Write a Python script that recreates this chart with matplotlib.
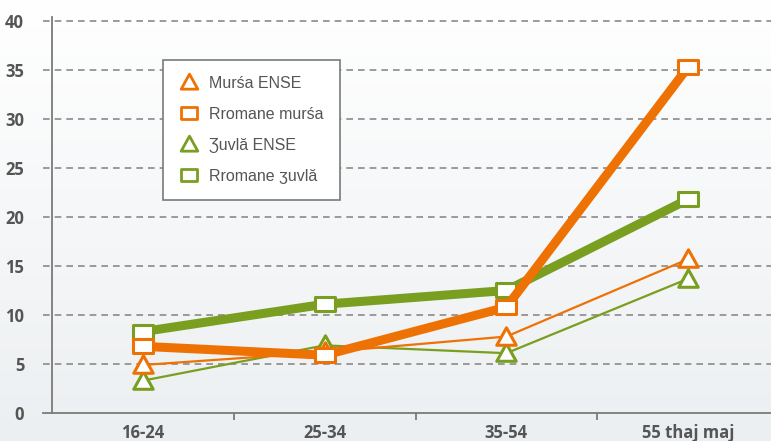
import numpy as np
import matplotlib
matplotlib.use("Agg")
import matplotlib.pyplot as plt
from matplotlib.path import Path
import matplotlib.transforms as mtransforms

categories = ["16-24", "25-34", "35-54", "55 thaj maj"]
mursa_ense = [4.9, 6.2, 7.8, 15.7]
rromane_mursa = [6.8, 5.9, 10.8, 35.3]
zuvla_ense = [3.3, 6.9, 6.1, 13.7]
rromane_zuvla = [8.3, 11.1, 12.5, 21.8]
yticks = [0, 5, 10, 15, 20, 25, 30, 35, 40]

ORANGE = "#EE7203"
GREEN = "#7A9E1F"
TXT = "#555555"

W, H = 771, 441
fig = plt.figure(figsize=(W / 100, H / 100), dpi=100)

# background gradient
bg = fig.add_axes([0, 0, 1, 1], zorder=-10)
grad = np.linspace(0, 1, 256).reshape(-1, 1)
top = np.array([1.0, 1.0, 1.0])
bot = np.array([0xEC, 0xEF, 0xF1]) / 255
img = top[None, None, :] * (1 - grad[:, :, None]) + bot[None, None, :] * grad[:, :, None]
bg.imshow(img, aspect="auto", extent=[0, 1, 0, 1])
bg.axis("off")

left, right = 52, 779
ybot, ytop = 413, 17
ax = fig.add_axes([left / W, (H - ybot) / H, (right - left) / W, (ybot - ytop) / H])
ax.patch.set_alpha(0)
x = np.arange(len(categories))
ax.set_xlim(-0.5, 3.5)
ax.set_ylim(0, 40.4)

rect = Path([(-1.35, -1), (1.35, -1), (1.35, 1), (-1.35, 1), (-1.35, -1)],
            [Path.MOVETO, Path.LINETO, Path.LINETO, Path.LINETO, Path.CLOSEPOLY])
tri = Path([(-1, -0.8), (1, -0.8), (0, 1), (-1, -0.8)],
           [Path.MOVETO, Path.LINETO, Path.LINETO, Path.CLOSEPOLY])

# gridlines (extend a bit to the left of the spine)
trans = mtransforms.blended_transform_factory(ax.transAxes, ax.transData)
for yv in yticks[1:]:
    ax.plot([-9 / (right - left), 1], [yv, yv], transform=trans, clip_on=False,
            color="#8a8a8a", lw=1.2, ls=(0, (4, 3)), zorder=1)

l1, = ax.plot(x, zuvla_ense, color=GREEN, lw=1.6, marker=tri, ms=14, mfc="white",
              mec=GREEN, mew=2.2, zorder=3, label="Ʒuvlă ENSE")
l2, = ax.plot(x, mursa_ense, color=ORANGE, lw=1.6, marker=tri, ms=14, mfc="white",
              mec=ORANGE, mew=2.2, zorder=3, label="Murśa ENSE")
l3, = ax.plot(x, rromane_zuvla, color=GREEN, lw=6.5, marker=rect, ms=14.5, mfc="white",
              mec=GREEN, mew=2.2, zorder=4, label="Rromane ʒuvlă")
l4, = ax.plot(x, rromane_mursa, color=ORANGE, lw=6.5, marker=rect, ms=14.5, mfc="white",
              mec=ORANGE, mew=2.2, zorder=5, label="Rromane murśa")

for s in ["top", "right"]:
    ax.spines[s].set_visible(False)
ax.spines["left"].set_color("#7a7a7a")
ax.spines["bottom"].set_color("#7a7a7a")
ax.spines["left"].set_linewidth(1.3)
ax.spines["bottom"].set_linewidth(1.3)
ax.spines["bottom"].set_bounds(-0.5 - 9 / (right - left) * 4, 3.5)

ax.set_yticks(yticks)
ax.set_yticklabels([str(v) for v in yticks], fontsize=12, fontweight="bold",
                   color=TXT, family="Open Sans")
ax.tick_params(axis="y", length=0, pad=20)
ax.set_xticks([0.5, 1.5, 2.5], minor=False)
ax.set_xticklabels([])
ax.tick_params(axis="x", length=5, color="#7a7a7a", width=1.3, direction="out")
for xi, c in zip(x, categories):
    ax.text(xi, -1.1, c, ha="center", va="top", fontsize=12, fontweight="bold",
            color=TXT, family="Open Sans")

leg = ax.legend(handles=[l2, l4, l1, l3],
                labels=["Murśa ENSE", "Rromane murśa", "Ʒuvlă ENSE", "Rromane ʒuvlă"],
                loc="upper left", bbox_to_anchor=((163 - left) / (right - left), (413 - 60) / (413 - 17)),
                frameon=True, fancybox=False, edgecolor="#7a7a7a", facecolor="white",
                framealpha=1, labelcolor=TXT, handlelength=1.3,
                handletextpad=0.6, borderpad=1.0, labelspacing=1.0, borderaxespad=0,
                prop={"family": "Liberation Sans", "size": 11.5})
for h in leg.legend_handles:
    h.set_linestyle("none")
    h.set_markersize(12)
    h.set_markeredgewidth(2)
leg.get_frame().set_linewidth(1.2)
leg.set_zorder(10)
for t in leg.get_texts():
    t.set_color(TXT)

fig.savefig("out.png", dpi=100)
